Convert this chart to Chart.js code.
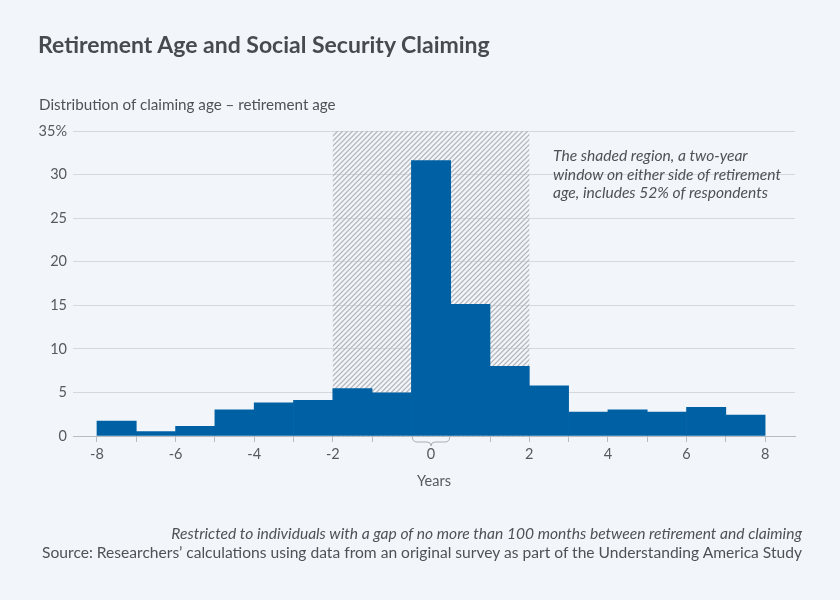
<!DOCTYPE html>
<html>
<head>
<meta charset="utf-8">
<script src="https://cdn.jsdelivr.net/npm/chart.js@4.4.1/dist/chart.umd.min.js"></script>
<style>
body { margin: 0; background: #f2f6fa; font-family: Lato, sans-serif; }
#wrap { position: relative; width: 840px; height: 600px; }
#barChart { position: absolute; left: 0; top: 0; }
.txt { position: absolute; color: #4e5257; white-space: nowrap; }
</style>
</head>
<body>
<div id="wrap">
  <canvas id="barChart" width="840" height="600"></canvas>
  <div class="txt" style="left:38px;top:30px;font-size:23px;font-weight:bold;color:#474b50">Retirement Age and Social Security Claiming</div>
  <div class="txt" style="left:39px;top:95px;font-size:15.2px">Distribution of claiming age &ndash; retirement age</div>
  <div class="txt" style="left:553px;top:146px;font-size:15.6px;font-style:italic;line-height:18.5px">The shaded region, a two-year<br>window on either side of retirement<br>age, includes 52% of respondents</div>
  <div class="txt" style="right:38px;top:524px;font-size:15.6px;line-height:19px;text-align:right"><i>Restricted to individuals with a gap of no more than 100 months between retirement and claiming</i><br>Source: Researchers&rsquo; calculations using data from an original survey as part of the Understanding America Study</div>
</div>
<script>
// bins of (claiming age - retirement age), in years
var binLabels = ['-8 to -7', '-7 to -6', '-6 to -5', '-5 to -4', '-4 to -3', '-3 to -2', '-2 to -1', '-1 to 0',
                 '0', '0 to 1', '1 to 2', '2 to 3', '3 to 4', '4 to 5', '5 to 6', '6 to 7', '7 to 8'];
var shares = [1.7, 0.5, 1.1, 3.0, 3.8, 4.1, 5.45, 4.95, 31.6, 15.1, 8.0, 5.75, 2.75, 3.0, 2.75, 3.3, 2.4];

// x tick positions are bin boundaries (0..17), labels in years
var xTickAt = [0, 1, 2, 3, 4, 5, 6, 7, 8.5, 10, 11, 12, 13, 14, 15, 16, 17];
var xTickText = ['-8', '', '-6', '', '-4', '', '-2', '', '0', '', '2', '', '4', '', '6', '', '8'];
var yTicks = [0, 5, 10, 15, 20, 25, 30, 35];

// shaded window: -2 to +2 years
var shadeFrom = 6, shadeTo = 11;
// bin marked with a brace (exactly 0)
var braceBin = 8;

var barCtx = document.getElementById('barChart').getContext('2d');

var hatchPlugin = {
    id: 'hatch',
    beforeDatasetsDraw: function(chart) {
        var x = chart.scales.x, y = chart.scales.y, c = chart.ctx;
        var x0 = x.getPixelForValue(shadeFrom), x1 = x.getPixelForValue(shadeTo);
        var y0 = y.getPixelForValue(35), y1 = y.getPixelForValue(0);
        c.save();
        c.beginPath();
        c.rect(x0, y0, x1 - x0, y1 - y0);
        c.clip();
        c.strokeStyle = '#b3b7bc';
        c.lineWidth = 1.2;
        c.beginPath();
        for (var s = x0 - (y1 - y0); s < x1; s += 5) {
            c.moveTo(s, y1);
            c.lineTo(s + (y1 - y0), y0);
        }
        c.stroke();
        c.restore();
    }
};

var bracePlugin = {
    id: 'brace',
    afterDraw: function(chart) {
        var x = chart.scales.x, y = chart.scales.y, c = chart.ctx;
        var a = x.getPixelForValue(braceBin) + 1, b = x.getPixelForValue(braceBin + 1) - 1;
        var m = (a + b) / 2, top = y.getPixelForValue(0) + 1;
        c.save();
        c.strokeStyle = '#a9adb2';
        c.lineWidth = 1;
        c.beginPath();
        c.moveTo(a, top);
        c.quadraticCurveTo(a, top + 5, a + 5, top + 5);
        c.lineTo(m - 4, top + 5);
        c.quadraticCurveTo(m, top + 5, m, top + 9);
        c.quadraticCurveTo(m, top + 5, m + 4, top + 5);
        c.lineTo(b - 5, top + 5);
        c.quadraticCurveTo(b, top + 5, b, top);
        c.stroke();
        c.restore();
    }
};

function createChart(ctx) {
    return new Chart(ctx, {
        type: 'bar',
        data: {
            labels: binLabels,
            datasets: [{
                label: 'Share of respondents',
                data: shares.map(function(v, i) { return { x: i + 0.5, y: v }; }),
                backgroundColor: '#0060a4',
                borderWidth: 0,
                barPercentage: 1,
                categoryPercentage: 1
            }]
        },
        options: {
            responsive: false,
            animation: false,
            layout: { padding: { left: 20, right: 45, top: 131, bottom: 110 } },
            plugins: { legend: { display: false }, tooltip: { enabled: false } },
            scales: {
                x: {
                    type: 'linear',
                    min: -0.61,
                    max: 17.76,
                    offset: false,
                    afterBuildTicks: function(s) {
                        s.ticks = xTickAt.map(function(v) { return { value: v }; });
                    },
                    ticks: {
                        autoSkip: false,
                        maxRotation: 0,
                        color: '#555a60',
                        font: { family: 'Lato', size: 14.5 },
                        padding: 4,
                        callback: function(v) {
                            var i = xTickAt.indexOf(v);
                            return i < 0 ? '' : xTickText[i];
                        }
                    },
                    grid: {
                        offset: false,
                        drawOnChartArea: false,
                        drawTicks: true,
                        tickLength: 6,
                        tickColor: function(c) {
                            return c.tick && c.tick.value === 8.5 ? 'rgba(0,0,0,0)' : '#b8bcc1';
                        }
                    },
                    border: { color: '#b8bcc1' },
                    title: {
                        display: true,
                        text: 'Years',
                        color: '#555a60',
                        font: { family: 'Lato', size: 14.5 },
                        padding: { top: 6, bottom: 0 }
                    },
                    afterFit: function(s) { s.height = 54; }
                },
                y: {
                    min: 0,
                    max: 35,
                    afterBuildTicks: function(s) {
                        s.ticks = yTicks.map(function(v) { return { value: v }; });
                    },
                    ticks: {
                        color: '#555a60',
                        font: { family: 'Lato', size: 14.5 },
                        padding: 6,
                        callback: function(v) { return v === 35 ? '35%' : v; }
                    },
                    grid: { color: '#d5d9de', drawTicks: false },
                    border: { display: false },
                    afterFit: function(s) { s.width = 53; }
                }
            }
        },
        plugins: [hatchPlugin, bracePlugin]
    });
}

createChart(barCtx);
</script>
</body>
</html>
